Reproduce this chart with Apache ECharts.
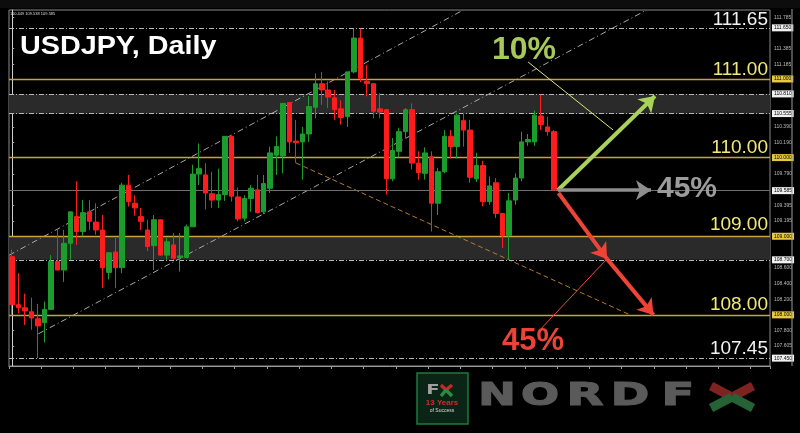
<!DOCTYPE html>
<html><head><meta charset="utf-8">
<script src="https://cdn.jsdelivr.net/npm/echarts@6/dist/echarts.min.js"></script>
<style>html,body{margin:0;padding:0;background:#000}#c{width:800px;height:433px}</style>
</head><body><div id="c"></div>
<script>
// ---- data ----
const opens = [108.74,108.13,108.09,108.04,107.95,107.90,108.07,108.68,108.57,108.91,
109.25,109.06,109.31,109.18,109.08,108.54,108.80,108.60,109.65,109.42,
109.25,109.08,108.88,109.21,108.76,108.89,108.73,108.73,109.12,109.79,
109.78,109.54,109.46,109.53,110.27,109.50,109.23,109.48,109.59,109.31,
109.61,110.03,110.02,110.70,110.21,110.20,110.30,110.64,110.94,110.86,
110.76,110.62,110.52,111.09,111.52,110.97,110.94,110.62,110.61,109.73,
110.08,110.33,110.61,109.93,109.80,110.01,109.42,109.82,110.27,110.14,
110.47,110.35,109.73,109.90,109.44,109.68,109.29,109.01,109.46,109.74,
110.20,110.20,110.53,110.39,110.33];
const closes = [108.13,108.09,108.05,107.96,107.86,108.07,108.68,108.57,108.91,109.31,
109.06,109.30,109.19,109.08,108.60,108.79,108.60,109.65,109.44,109.36,
109.19,108.87,109.21,108.76,108.93,108.72,108.75,109.12,109.79,109.86,
109.55,109.46,109.53,110.27,109.51,109.22,109.48,109.61,109.30,109.67,
110.06,110.14,110.69,110.20,110.19,110.30,110.65,110.94,110.86,110.77,
110.61,110.51,111.09,111.52,111.01,110.94,110.59,110.58,109.73,110.09,
110.33,110.61,109.93,109.81,110.06,109.42,109.82,110.27,110.14,110.54,
110.35,109.75,109.90,109.44,109.64,109.29,109.01,109.45,109.74,110.20,
110.23,110.54,110.42,110.33,109.59];
const lows = [108.00,108.02,107.87,107.81,107.45,107.65,108.07,108.57,108.42,108.70,
108.89,109.00,109.08,109.02,108.34,108.45,108.34,108.53,109.38,109.26,
109.08,108.81,108.57,108.75,108.70,108.70,108.55,108.72,109.12,109.65,
109.34,109.36,109.36,109.45,109.44,109.19,109.19,109.31,109.29,109.28,
109.55,109.78,109.80,110.06,109.93,109.72,110.20,110.50,110.67,110.63,
110.48,110.42,110.39,111.07,110.96,110.78,110.50,110.50,109.53,109.70,
110.00,110.25,109.85,109.72,109.72,109.06,109.27,109.80,109.99,109.99,
110.14,109.68,109.69,109.38,109.40,109.23,108.85,108.70,109.40,109.70,
110.15,110.15,110.35,110.28,109.585];
const highs = [108.83,108.53,108.27,108.22,108.14,108.17,108.76,109.08,109.08,109.31,
109.70,109.46,109.46,109.42,109.27,108.79,108.98,109.68,109.78,109.52,
109.36,109.21,109.27,109.21,108.98,109.04,109.04,109.15,109.91,110.18,
109.93,109.82,109.86,110.27,110.27,109.62,109.52,109.65,109.78,109.78,
110.14,110.27,110.69,110.70,110.48,110.39,110.78,111.07,111.09,110.97,
110.86,110.73,111.09,111.64,111.64,111.18,110.94,110.82,110.62,110.25,
110.38,110.63,110.69,110.08,110.13,110.08,109.87,110.35,110.35,110.57,
110.57,110.48,110.06,109.96,109.76,109.74,109.29,109.55,109.80,110.33,
110.30,110.60,110.80,110.52,110.35];

// support / resistance levels
const goldLevels = [111.00, 110.00, 109.00, 108.00];
const goldLabels = ['111.00', '110.00', '109.00', '108.00'];
const extremeLevels = [111.65, 107.45];
const extremeLabels = ['111.65', '107.45'];
const zoneUpper = [110.555, 110.81];
const zoneLower = [108.70, 109.00];
const lastPrice = 109.585;

// price-axis tick labels
const axisTickLabels = [111.785, 111.385, 111.185, 110.390, 110.190, 109.790, 109.395, 109.195,
  108.600, 108.400, 108.200, 107.800, 107.605];

// trend / scenario lines in (bar index, price)
const upperChannel = [[-0.5, 108.758], [69.95, 111.877]];
const lowerChannel = [[4.04, 107.759], [98.38, 111.877]];
const orangeTrend = [[44.0, 109.932], [95.8, 108.0]];
const arrowUp = [[84.6, 109.585], [99.67, 110.784]];
const arrowFlat = [[84.6, 109.585], [99.05, 109.585]];
const arrowDown1 = [[84.7, 109.55], [92.23, 108.712]];
const arrowDown2 = [[92.23, 108.712], [99.44, 108.0]];
const pointerUp = [[79.98, 111.216], [93.16, 110.352]];
const pointerDown = [[92.23, 108.712], [81.84, 107.81]];
const scenarioLabels = ['10%', '45%', '45%'];

const totalSlots = 118;
const categories = [];
for (let i = 0; i < totalSlots; i++) categories.push('D' + (i + 1));

// ---- build ----
const candleData = opens.map((o, i) => [o, closes[i], lows[i], highs[i]]);

const GOLD = '#c9a23e';
const markLines = [];
goldLevels.forEach(v => markLines.push({
  yAxis: v, lineStyle: {color: GOLD, width: 1.4, type: 'solid'},
  label: {show: true, position: 'end', distance: 2, formatter: v.toFixed(3), fontSize: 5,
    color: '#000', backgroundColor: '#e8c840', padding: [1, 2]}
}));
extremeLevels.concat(zoneUpper, [zoneLower[0]]).forEach(v => markLines.push({
  yAxis: v, lineStyle: {color: '#b8b8b8', width: 1, type: [5, 2, 1, 2]},
  label: {show: true, position: 'end', distance: 2, formatter: v.toFixed(3), fontSize: 5,
    color: '#000', backgroundColor: '#f0f0f0', padding: [1, 2]}
}));
markLines.push({
  yAxis: lastPrice, lineStyle: {color: '#707070', width: 1, type: 'solid'},
  label: {show: true, position: 'end', distance: 2, formatter: lastPrice.toFixed(3), fontSize: 5,
    color: '#000', backgroundColor: '#f0f0f0', padding: [1, 2]}
});

function seg(coords, color, width, type) {
  return {coords: coords, lineStyle: {color: color, width: width, type: type || 'solid', opacity: 1}};
}
function bigLetter(ch, x, sx) {
  return {type: 'text', x: x, y: 397, scaleX: sx, z: 10,
    style: {text: ch, fontSize: 32, fontWeight: 'bold', fill: '#5a5a5a', stroke: '#5a5a5a', lineWidth: 1.2,
      fontFamily: 'DejaVu Sans', align: 'center', verticalAlign: 'middle'}};
}

const chart = echarts.init(document.getElementById('c'), null, {renderer: 'canvas'});
const option = {
  backgroundColor: '#000',
  animation: false,
  grid: {left: 9, right: 30, top: 10, bottom: 67, show: true, borderColor: '#8a8a8a', borderWidth: 1, backgroundColor: '#000'},
  xAxis: [{
    type: 'category', data: categories, boundaryGap: true,
    axisLine: {lineStyle: {color: '#9a9a9a'}},
    axisTick: {show: true, interval: 4, length: 3, lineStyle: {color: '#9a9a9a'}},
    axisLabel: {show: false}, splitLine: {show: false}
  }, {
    type: 'value', min: -0.5, max: totalSlots - 0.5, show: false
  }],
  yAxis: [{
    type: 'value', position: 'right', min: 107.35, max: 111.877, scale: true,
    axisLine: {show: true, lineStyle: {color: '#d0d0d0'}},
    axisTick: {show: true, length: 2, customValues: axisTickLabels, lineStyle: {color: '#aaa'}},
    axisLabel: {show: true, customValues: axisTickLabels, fontSize: 5, color: '#bbbbbb', margin: 4,
      formatter: v => v.toFixed(3)},
    splitLine: {show: false}
  }],
  series: [
    {
      type: 'line', xAxisIndex: 1, yAxisIndex: 0, data: [], z: 1, silent: true,
      markArea: {silent: true, itemStyle: {color: '#2a2a2a'},
        data: [[{yAxis: zoneUpper[0]}, {yAxis: zoneUpper[1]}], [{yAxis: zoneLower[0]}, {yAxis: zoneLower[1]}]]},
      markLine: {silent: true, symbol: ['none', 'none'], data: markLines}
    },
    {
      type: 'lines', coordinateSystem: 'cartesian2d', xAxisIndex: 1, yAxisIndex: 0, z: 2, silent: true,
      symbol: ['none', 'none'],
      data: [
        seg(upperChannel, '#a8a8a8', 1, [6, 3, 1, 3]),
        seg(lowerChannel, '#a8a8a8', 1, [6, 3, 1, 3]),
        seg(orangeTrend, '#b87a2c', 1, [5, 3])
      ]
    },
    {
      type: 'candlestick', xAxisIndex: 0, yAxisIndex: 0, data: candleData, barWidth: 5, z: 5,
      itemStyle: {color: '#1c9c2c', color0: '#ff1c1c', borderColor: '#1c9c2c', borderColor0: '#ff1c1c', borderWidth: 1}
    },
    {
      type: 'lines', coordinateSystem: 'cartesian2d', xAxisIndex: 1, yAxisIndex: 0, z: 8, silent: true,
      symbol: ['none', 'none'],
      data: [
        seg(pointerUp, '#d8e878', 1),
        seg(pointerDown, '#ee4a3c', 1)
      ]
    },
    {
      type: 'lines', coordinateSystem: 'cartesian2d', xAxisIndex: 1, yAxisIndex: 0, z: 9, silent: true,
      symbol: ['none', 'arrow'], symbolSize: 15,
      data: [
        seg(arrowUp, '#a8d25a', 4),
        seg(arrowFlat, '#8e8e8e', 3.5),
        seg(arrowDown1, '#ee4438', 4),
        seg(arrowDown2, '#ee4438', 4)
      ]
    }
  ],
  graphic: [
    {type: 'rect', shape: {x: 0, y: 0, width: 800, height: 8}, style: {fill: '#0d0d0d'}, z: 0},
    {type: 'line', shape: {x1: 792, y1: 9, x2: 792, y2: 366}, style: {stroke: '#9a9a9a', lineWidth: 1}, z: 10},
    {type: 'text', x: 10, y: 14, style: {text: '110.449 109.538 109.585', fontSize: 4, fill: '#ddd', verticalAlign: 'middle', fontFamily: 'Liberation Sans'}, z: 10},
    {type: 'text', x: 20, y: 47, scaleX: 1.15, style: {text: 'USDJPY, Daily', fontSize: 25, fontWeight: 'bold', fill: '#ffffff', fontFamily: 'Liberation Sans', verticalAlign: 'middle', align: 'left'}, z: 10},
    {type: 'text', x: 768, y: 20, style: {text: extremeLabels[0], fontSize: 19, fill: '#f2f2f2', fontFamily: 'Liberation Sans', align: 'right', verticalAlign: 'middle'}, z: 10},
    {type: 'text', x: 768, y: 70, style: {text: goldLabels[0], fontSize: 19, fill: '#f2e877', fontFamily: 'Liberation Sans', align: 'right', verticalAlign: 'middle'}, z: 10},
    {type: 'text', x: 768, y: 148, style: {text: goldLabels[1], fontSize: 19, fill: '#f2e877', fontFamily: 'Liberation Sans', align: 'right', verticalAlign: 'middle'}, z: 10},
    {type: 'text', x: 768, y: 225, style: {text: goldLabels[2], fontSize: 19, fill: '#f2e877', fontFamily: 'Liberation Sans', align: 'right', verticalAlign: 'middle'}, z: 10},
    {type: 'text', x: 768, y: 305, style: {text: goldLabels[3], fontSize: 19, fill: '#f2e877', fontFamily: 'Liberation Sans', align: 'right', verticalAlign: 'middle'}, z: 10},
    {type: 'text', x: 768, y: 349, style: {text: extremeLabels[1], fontSize: 19, fill: '#f2f2f2', fontFamily: 'Liberation Sans', align: 'right', verticalAlign: 'middle'}, z: 10},
    {type: 'text', x: 524, y: 50, style: {text: scenarioLabels[0], fontSize: 32, fontWeight: 'bold', fill: '#a6c95a', fontFamily: 'Liberation Sans', align: 'center', verticalAlign: 'middle'}, z: 10},
    {type: 'text', x: 657, y: 189, style: {text: scenarioLabels[1], fontSize: 30, fontWeight: 'bold', fill: '#9c9c9c', fontFamily: 'Liberation Sans', align: 'left', verticalAlign: 'middle'}, z: 10},
    {type: 'text', x: 533, y: 341, style: {text: scenarioLabels[2], fontSize: 31, fontWeight: 'bold', fill: '#ea4438', fontFamily: 'Liberation Sans', align: 'center', verticalAlign: 'middle'}, z: 10},
    // logo
    {type: 'rect', shape: {x: 417, y: 373, width: 51, height: 51}, style: {fill: '#0a2416', stroke: '#1e7a3c', lineWidth: 1.5}, z: 10},
    {type: 'text', x: 433, y: 390, scaleX: 1.4, style: {text: 'F', fontSize: 14, fontWeight: 'bold', fill: '#a0a0a0', fontFamily: 'DejaVu Sans', align: 'center', verticalAlign: 'middle'}, z: 11},
    {type: 'line', shape: {x1: 441, y1: 385, x2: 446, y2: 390}, style: {stroke: '#c22a2a', lineWidth: 3.5}, z: 11},
    {type: 'line', shape: {x1: 452, y1: 385, x2: 446, y2: 390}, style: {stroke: '#c22a2a', lineWidth: 3.5}, z: 11},
    {type: 'line', shape: {x1: 446, y1: 390, x2: 441, y2: 396}, style: {stroke: '#2c8a44', lineWidth: 3.5}, z: 11},
    {type: 'line', shape: {x1: 446, y1: 390, x2: 452, y2: 396}, style: {stroke: '#2c8a44', lineWidth: 3.5}, z: 11},
    {type: 'text', x: 442, y: 403, style: {text: '13 Years', fontSize: 8, fontWeight: 'bold', fill: '#d42a2a', fontFamily: 'Liberation Sans', align: 'center', verticalAlign: 'middle'}, z: 11},
    {type: 'text', x: 442, y: 411, style: {text: 'of Success', fontSize: 5, fill: '#dddddd', fontFamily: 'Liberation Sans', align: 'center', verticalAlign: 'middle'}, z: 11},
    bigLetter('N', 497, 1.4),
    bigLetter('O', 540, 1.4),
    bigLetter('R', 585, 1.5),
    bigLetter('D', 630, 1.45),
    bigLetter('F', 678, 1.5),
    {type: 'line', shape: {x1: 711, y1: 386, x2: 732, y2: 397}, style: {stroke: '#7e2222', lineWidth: 9}, z: 10},
    {type: 'line', shape: {x1: 753, y1: 386, x2: 732, y2: 397}, style: {stroke: '#7e2222', lineWidth: 9}, z: 10},
    {type: 'line', shape: {x1: 732, y1: 397, x2: 711, y2: 408}, style: {stroke: '#256236', lineWidth: 9}, z: 10},
    {type: 'line', shape: {x1: 732, y1: 397, x2: 753, y2: 408}, style: {stroke: '#256236', lineWidth: 9}, z: 10}
  ]
};
chart.setOption(option);
</script>
</body></html>
